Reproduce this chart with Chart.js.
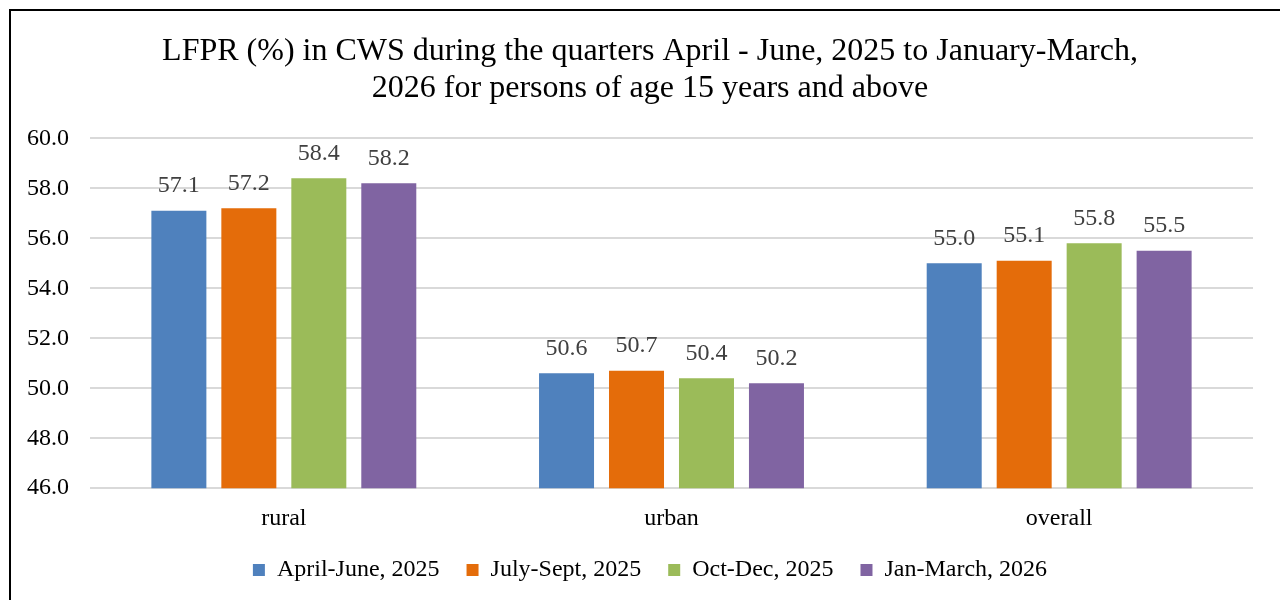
<!DOCTYPE html>
<html>
<head>
<meta charset="utf-8">
<script src="https://cdn.jsdelivr.net/npm/chart.js@4/dist/chart.umd.min.js"></script>
<style>
  html, body { margin: 0; padding: 0; background: #fff; overflow: hidden; }
  #wrap { position: relative; width: 1280px; height: 600px; }
  #frame { position: absolute; left: 9px; top: 9px; right: -10px; bottom: -10px;
           border-left: 2px solid #000; border-top: 2px solid #000; pointer-events: none; }
</style>
</head>
<body>
<div id="wrap">
  <canvas id="chart" width="1280" height="600"></canvas>
  <div id="frame"></div>
</div>
<script>
// Daten
const categories = ["rural", "urban", "overall"];
const seriesNames = ["April-June, 2025", "July-Sept, 2025", "Oct-Dec, 2025", "Jan-March, 2026"];
const aprJun2025 = [57.1, 50.6, 55.0];
const julSep2025 = [57.2, 50.7, 55.1];
const octDec2025 = [58.4, 50.4, 55.8];
const janMar2026 = [58.2, 50.2, 55.5];
const yTicks = [46, 48, 50, 52, 54, 56, 58, 60];

const colors = ["#4F81BD", "#E46C0A", "#9BBB59", "#8064A2"];
const serif = "'Liberation Serif', 'Times New Roman', serif";

// Werte über den Balken schreiben
const valueLabels = {
  id: "valueLabels",
  afterDatasetsDraw(chart) {
    const ctx = chart.ctx;
    ctx.save();
    ctx.font = "24px " + serif;
    ctx.fillStyle = "#404040";
    ctx.textAlign = "center";
    ctx.textBaseline = "middle";
    chart.data.datasets.forEach((ds, i) => {
      chart.getDatasetMeta(i).data.forEach((bar, j) => {
        ctx.fillText(ds.data[j].toFixed(1), bar.x, bar.y - 25);
      });
    });
    ctx.restore();
  }
};

const seriesData = [aprJun2025, julSep2025, octDec2025, janMar2026];

new Chart(document.getElementById("chart"), {
  type: "bar",
  data: {
    labels: categories,
    datasets: seriesNames.map((name, i) => ({
      label: name,
      data: seriesData[i],
      backgroundColor: colors[i],
      barPercentage: 0.786,
      categoryPercentage: 0.722
    }))
  },
  options: {
    responsive: false,
    animation: false,
    layout: { padding: { left: 47, right: 27, top: 0, bottom: 8 } },
    plugins: {
      tooltip: { enabled: false },
      title: {
        display: true,
        text: ["LFPR (%) in CWS during the quarters April - June, 2025 to January-March,",
               "2026 for persons of age 15 years and above"],
        color: "#000",
        font: { family: serif, size: 32, weight: "normal", lineHeight: 1.16 },
        padding: { top: 33, bottom: 31 }
      },
      legend: {
        position: "bottom",
        labels: {
          color: "#000",
          font: { family: serif, size: 24 },
          boxWidth: 12,
          boxHeight: 12,
          padding: 27
        }
      }
    },
    scales: {
      x: {
        afterFit: s => { s.height = s.height - 10; },
        grid: { display: false },
        border: { display: false },
        ticks: { color: "#000", font: { family: serif, size: 24 }, padding: 8 }
      },
      y: {
        min: 46,
        max: 60,
        afterBuildTicks: s => { s.ticks = yTicks.map(v => ({ value: v })); },
        afterFit: s => { s.width = 43; },
        grid: { color: "#d9d9d9", lineWidth: 2, drawTicks: false },
        border: { display: false },
        ticks: {
          color: "#000",
          font: { family: serif, size: 24 },
          mirror: true,
          crossAlign: "near",
          padding: -63,
          callback: v => v.toFixed(1)
        }
      }
    }
  },
  plugins: [valueLabels]
});
</script>
</body>
</html>
